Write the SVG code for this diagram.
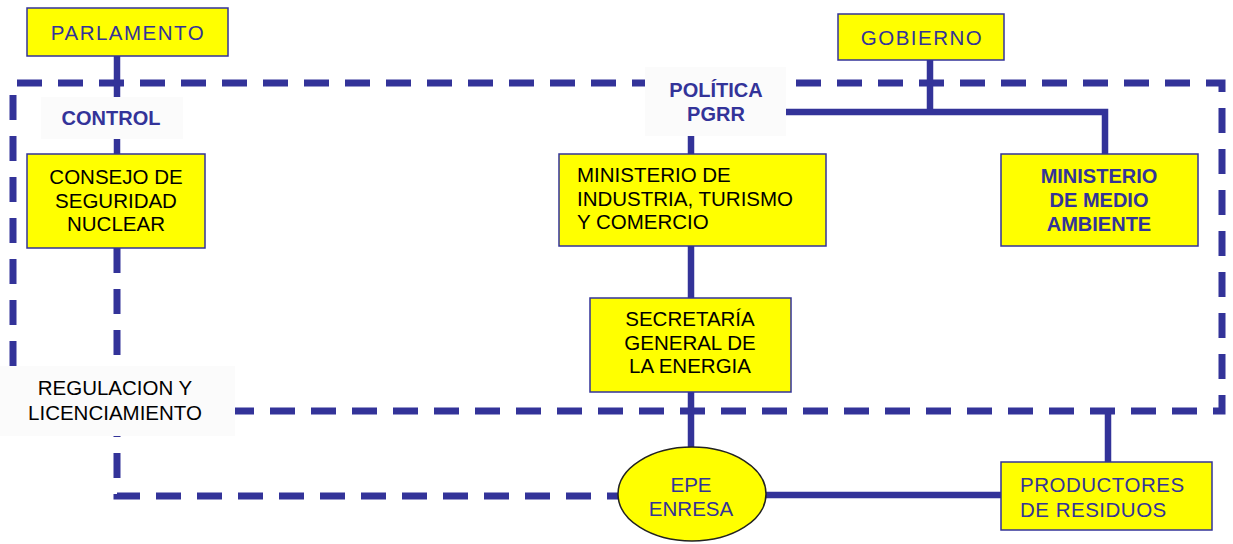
<svg xmlns="http://www.w3.org/2000/svg" width="1233" height="544" viewBox="0 0 1233 544">
<style>
  .box { fill: #ffff00; stroke: #333399; stroke-width: 1.5; }
  .ell { fill: #ffff00; stroke: #222222; stroke-width: 1.5; }
  .solid { fill: none; stroke: #333399; stroke-width: 6.5; }
  .dash { fill: none; stroke: #333399; stroke-width: 7; stroke-dasharray: 25 16; }
  .lblbg { fill: #fbfbfb; stroke: none; }
  text { font-family: "Liberation Sans", Arial, sans-serif; font-size: 20.5px; }
  .blk { fill: #000000; }
  .blu { fill: #333399; }
  .bold { font-weight: bold; fill: #333399; font-size: 20px; }
  .wide { letter-spacing: 1.5px; }
  .mid { text-anchor: middle; }
</style>
<rect x="0" y="0" width="1233" height="544" fill="#ffffff"/>

<g id="connectors">
  <path class="dash" d="M13,366 V83 H1222 V411 H235"/>
  <path class="dash" d="M117,248 V496 H618"/>
  <path class="solid" d="M117,56 V154"/>
  <path class="solid" d="M691,120 V154"/>
  <path class="solid" d="M930,60 V112"/>
  <path class="solid" d="M780,112 H1105 V154"/>
  <path class="solid" d="M691,246 V298"/>
  <path class="solid" d="M691,392 V450"/>
  <path class="solid" d="M760,495 H1001"/>
  <path class="solid" d="M1108,411 V462"/>
</g>

<g id="label-control">
  <rect class="lblbg" x="41" y="97" width="142" height="42"/>
  <text class="bold mid" x="111" y="125">CONTROL</text>
</g>

<g id="label-politica">
  <rect class="lblbg" x="645" y="67" width="141" height="69"/>
  <text class="bold mid" x="716" y="97">POLÍTICA</text>
  <text class="bold mid" x="716" y="121">PGRR</text>
</g>

<g id="label-regulacion">
  <rect class="lblbg" x="0" y="366" width="235" height="70"/>
  <text class="blk mid" x="115" y="395">REGULACION Y</text>
  <text class="blk mid" x="115" y="420">LICENCIAMIENTO</text>
</g>

<g id="parlamento">
  <rect class="box" x="27" y="8" width="201" height="48"/>
  <text class="blu mid wide" x="128" y="40">PARLAMENTO</text>
</g>

<g id="gobierno">
  <rect class="box" x="838" y="14" width="166" height="46"/>
  <text class="blu mid wide" x="922" y="45">GOBIERNO</text>
</g>

<g id="consejo">
  <rect class="box" x="27" y="154" width="178" height="94"/>
  <text class="blk mid" x="116" y="184">CONSEJO DE</text>
  <text class="blk mid" x="116" y="208">SEGURIDAD</text>
  <text class="blk mid" x="116" y="231">NUCLEAR</text>
</g>

<g id="ministerio-industria">
  <rect class="box" x="559" y="154" width="267" height="92"/>
  <text class="blk" x="577" y="182">MINISTERIO DE</text>
  <text class="blk" x="577" y="206">INDUSTRIA, TURISMO</text>
  <text class="blk" x="577" y="229">Y COMERCIO</text>
</g>

<g id="ministerio-medio-ambiente">
  <rect class="box" x="1001" y="154" width="197" height="92"/>
  <text class="bold mid" x="1099" y="183">MINISTERIO</text>
  <text class="bold mid" x="1099" y="207">DE MEDIO</text>
  <text class="bold mid" x="1099" y="231">AMBIENTE</text>
</g>

<g id="secretaria">
  <rect class="box" x="590" y="298" width="201" height="94"/>
  <text class="blk mid" x="690" y="326">SECRETARÍA</text>
  <text class="blk mid" x="690" y="350">GENERAL DE</text>
  <text class="blk mid" x="690" y="373">LA ENERGIA</text>
</g>

<g id="epe-enresa">
  <ellipse class="ell" cx="692" cy="494" rx="74" ry="47"/>
  <text class="blu mid" x="691" y="492">EPE</text>
  <text class="blu mid" x="691" y="516">ENRESA</text>
</g>

<g id="productores">
  <rect class="box" x="1001" y="462" width="211" height="68"/>
  <text class="blu" x="1020" y="492" style="letter-spacing:0.5px">PRODUCTORES</text>
  <text class="blu" x="1020" y="517" style="letter-spacing:0.5px">DE RESIDUOS</text>
</g>
</svg>
